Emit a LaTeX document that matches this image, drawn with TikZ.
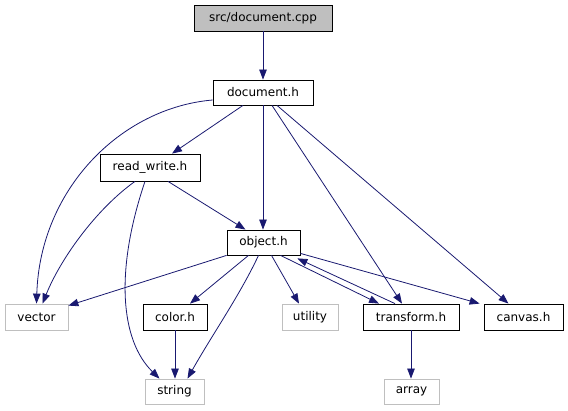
\documentclass[tikz,border=0pt]{standalone}
\usepackage{fontspec}
\setmainfont{DejaVu Sans}
\usetikzlibrary{arrows.meta}
\definecolor{edgeblue}{RGB}{25,25,112}
\definecolor{extgray}{RGB}{191,191,191}
\definecolor{cppfill}{RGB}{191,191,191}
\tikzset{
  filebox/.style={draw=black, line width=0.8pt, fill=white, inner sep=0pt,
    font=\fontsize{12}{14}\selectfont, text=black},
  extbox/.style={filebox, draw=extgray},
  dep/.style={draw=edgeblue, line width=0.8pt, -{Triangle[length=10pt,width=7.5pt]}},
}
\begin{document}
\begin{tikzpicture}[x=1pt,y=-1pt]
\useasboundingbox (0,0) rectangle (568,411);
\node[filebox, fill=cppfill, minimum width=138pt, minimum height=26pt] (cpp) at (263,18) {src/document.cpp};
\node[filebox, minimum width=100pt, minimum height=25pt] (doc) at (263,92.5) {document.h};
\node[filebox, minimum width=100pt, minimum height=27pt] (rw) at (150,167.5) {read\_write.h};
\node[filebox, minimum width=73pt, minimum height=25pt] (obj) at (263.5,242.5) {object.h};
\node[extbox, minimum width=63pt, minimum height=26pt] (vector) at (36.5,317) {vector};
\node[filebox, minimum width=64pt, minimum height=26pt] (color) at (175,317) {color.h};
\node[extbox, minimum width=59pt, minimum height=25pt] (string) at (174.5,391.5) {string};
\node[extbox, minimum width=56pt, minimum height=26pt] (utility) at (310,317) {utility};
\node[filebox, minimum width=96pt, minimum height=26pt] (transform) at (411,317) {transform.h};
\node[filebox, minimum width=79pt, minimum height=26pt] (canvas) at (523.5,317) {canvas.h};
\node[extbox, minimum width=55pt, minimum height=25pt] (array) at (411.5,391.5) {array};

\draw[dep] (cpp) -- (doc);
\draw[dep] ([yshift=-7.5pt]doc.west) .. controls (120,108) and (40,190) .. (vector.north);
\draw[dep] ([xshift=-20pt]doc.south) -- ([xshift=22pt]rw.north);
\draw[dep] (doc.south) -- (doc.south |- obj.north);
\draw[dep] ([xshift=9pt]doc.south) -- ([xshift=-9pt]transform.north);
\draw[dep] ([xshift=14pt]doc.south) -- ([xshift=-15pt]canvas.north);
\draw[dep] ([xshift=-15pt]rw.south) .. controls (95,210) and (60,260) .. ([xshift=6pt]vector.north);
\draw[dep] ([xshift=-5pt]rw.south) .. controls (115,270) and (120,340) .. ([xshift=-15pt]string.north);
\draw[dep] ([xshift=18pt]rw.south) -- ([xshift=-18pt]obj.north);
\draw[dep] (obj.south west) -- ([yshift=-2pt]vector.north east);
\draw[dep] ([xshift=-15pt]obj.south) -- ([xshift=15pt]color.north);
\draw[dep] ([xshift=-5pt]obj.south) .. controls (240,295) and (212,335) .. ([xshift=13pt]string.north);
\draw[dep] ([xshift=8pt]obj.south) -- ([xshift=-11pt]utility.north);
\draw[dep] ([xshift=17pt]obj.south) -- ([xshift=-32pt]transform.north);
\draw[dep] ([xshift=-16pt]transform.north) -- ([xshift=-3pt,yshift=-3pt]obj.south east);
\draw[dep] ([yshift=2pt]obj.south east) -- ([xshift=-4pt]canvas.north west);
\draw[dep] (color.south) -- (color.south |- string.north);
\draw[dep] (transform.south) -- (transform.south |- array.north);
\end{tikzpicture}
\end{document}
